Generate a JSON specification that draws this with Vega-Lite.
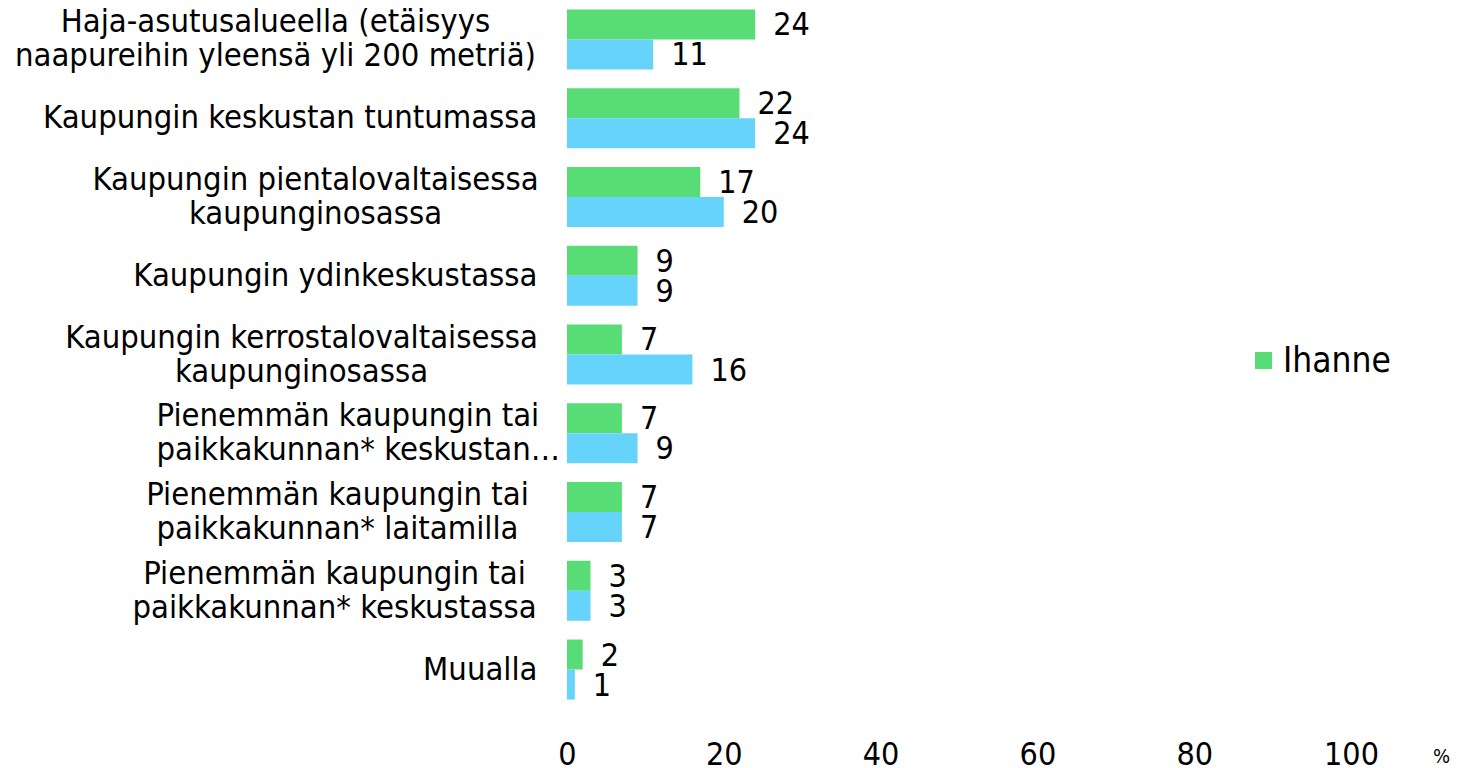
{
  "$schema": "https://vega.github.io/schema/vega-lite/v6.json",
  "autosize": {"type": "none"},
  "padding": {"left": 567, "top": 0, "right": 113, "bottom": 59},
  "width": 784,
  "height": 709,
  "config": {
    "view": {"stroke": null},
    "font": "DejaVu Sans Condensed"
  },
  "data": {
    "values": [
      {"cat": "Haja-asutusalueella (etäisyys|naapureihin yleensä yli 200 metriä)", "series": "Ihanne", "value": 24},
      {"cat": "Haja-asutusalueella (etäisyys|naapureihin yleensä yli 200 metriä)", "series": "Nykyinen", "value": 11},
      {"cat": "Kaupungin keskustan tuntumassa", "series": "Ihanne", "value": 22},
      {"cat": "Kaupungin keskustan tuntumassa", "series": "Nykyinen", "value": 24},
      {"cat": "Kaupungin pientalovaltaisessa|kaupunginosassa", "series": "Ihanne", "value": 17},
      {"cat": "Kaupungin pientalovaltaisessa|kaupunginosassa", "series": "Nykyinen", "value": 20},
      {"cat": "Kaupungin ydinkeskustassa", "series": "Ihanne", "value": 9},
      {"cat": "Kaupungin ydinkeskustassa", "series": "Nykyinen", "value": 9},
      {"cat": "Kaupungin kerrostalovaltaisessa|kaupunginosassa", "series": "Ihanne", "value": 7},
      {"cat": "Kaupungin kerrostalovaltaisessa|kaupunginosassa", "series": "Nykyinen", "value": 16},
      {"cat": "Pienemmän kaupungin tai|paikkakunnan* keskustan…", "series": "Ihanne", "value": 7},
      {"cat": "Pienemmän kaupungin tai|paikkakunnan* keskustan…", "series": "Nykyinen", "value": 9},
      {"cat": "Pienemmän kaupungin tai|paikkakunnan* laitamilla", "series": "Ihanne", "value": 7},
      {"cat": "Pienemmän kaupungin tai|paikkakunnan* laitamilla", "series": "Nykyinen", "value": 7},
      {"cat": "Pienemmän kaupungin tai|paikkakunnan* keskustassa", "series": "Ihanne", "value": 3},
      {"cat": "Pienemmän kaupungin tai|paikkakunnan* keskustassa", "series": "Nykyinen", "value": 3},
      {"cat": "Muualla", "series": "Ihanne", "value": 2},
      {"cat": "Muualla", "series": "Nykyinen", "value": 1}
    ]
  },
  "encoding": {
    "y": {
      "field": "cat",
      "type": "nominal",
      "sort": null,
      "scale": {"paddingInner": 0.238, "paddingOuter": 0.12},
      "axis": {
        "title": null,
        "domain": false,
        "ticks": false,
        "grid": false,
        "labelExpr": "split(datum.label, '|')",
        "labelFontSize": 32.5,
        "labelLineHeight": 34,
        "labelLimit": 800,
        "labelColor": "#000000",
        "labelAlign": {
          "condition": [
            {"test": "indexof(datum.value, 'keskustan…') >= 0", "value": "left"},
            {"test": "indexof(datum.value, '|') >= 0", "value": "center"}
          ],
          "value": "right"
        },
        "labelOffset": {
          "condition": {"test": "indexof(datum.value, '|') >= 0", "value": -17},
          "value": 0
        },
        "labelPadding": {
          "condition": [
            {"test": "indexof(datum.value, 'Haja') == 0", "value": 292},
            {"test": "indexof(datum.value, 'pientalo') >= 0", "value": 252},
            {"test": "indexof(datum.value, 'kerrostalo') >= 0", "value": 266},
            {"test": "indexof(datum.value, 'keskustan…') >= 0", "value": 411},
            {"test": "indexof(datum.value, 'laitamilla') >= 0", "value": 230},
            {"test": "indexof(datum.value, 'keskustassa') >= 0 && indexof(datum.value, '|') >= 0", "value": 233}
          ],
          "value": 30
        }
      }
    },
    "yOffset": {"field": "series", "type": "nominal", "sort": ["Ihanne", "Nykyinen"], "scale": {"paddingInner": 0}},
    "x": {
      "field": "value",
      "type": "quantitative",
      "scale": {"domain": [0, 100], "nice": false},
      "axis": {
        "values": [0, 20, 40, 60, 80, 100],
        "title": "%",
        "titleFontSize": 20,
        "titleFontWeight": "normal",
        "titleColor": "#000000",
        "titleAnchor": "start",
        "titleAlign": "center",
        "titleX": 874,
        "titleY": 47,
        "titleBaseline": "middle",
        "domain": false,
        "ticks": false,
        "grid": false,
        "labelFontSize": 32,
        "labelBaseline": "alphabetic",
        "labelPadding": 55,
        "labelColor": "#000000",
        "labelFlush": false
      }
    }
  },
  "layer": [
    {
      "mark": {"type": "bar"},
      "encoding": {
        "color": {
          "field": "series",
          "type": "nominal",
          "scale": {"domain": ["Ihanne", "Nykyinen"], "range": ["#58DC75", "#66D3FB"]},
          "legend": {
            "values": ["Ihanne"],
            "title": null,
            "orient": "none",
            "legendX": 679,
            "legendY": 343,
            "padding": 0,
            "symbolType": "square",
            "symbolSize": 289,
            "symbolStrokeWidth": 0,
            "labelFontSize": 35,
            "labelColor": "#000000",
            "labelOffset": 2
          }
        }
      }
    },
    {
      "mark": {"type": "text", "align": "left", "baseline": "middle", "dx": 18, "dy": 1, "fontSize": 32, "color": "#000000"},
      "encoding": {
        "text": {"field": "value", "type": "quantitative"}
      }
    }
  ]
}
